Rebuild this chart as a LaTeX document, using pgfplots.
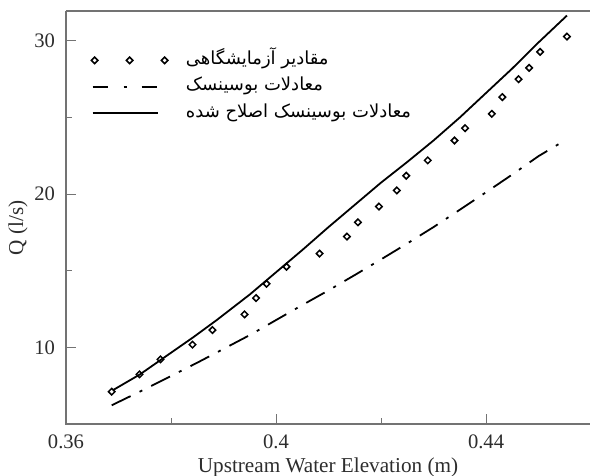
\documentclass[border=0pt]{standalone}
\usepackage{pgfplots}
\pgfplotsset{compat=1.18}
\usepackage{fontspec}
\setmainfont{Liberation Serif}
\newfontfamily\arabicfont[Script=Arabic]{DejaVu Sans}
\TeXXeTstate=1
\definecolor{axgray}{RGB}{115,115,115}
\definecolor{txt}{RGB}{45,45,45}
\begin{document}
\begin{tikzpicture}
\begin{axis}[
  name=ax,
  scale only axis,
  width=262pt, height=206.5pt,
  xmin=0.36, xmax=0.4598, ymin=5, ymax=31.95,
  axis line style={draw=none},
  xtick={0.36,0.4,0.44}, xticklabels={0.36,0.4,0.44},
  minor xtick={0.38,0.42},
  ytick={10,20,30}, yticklabels={10,20,30},
  minor ytick={15,25},
  xtick pos=bottom, ytick pos=left,
  tick align=inside,
  major tick length=5pt, minor tick length=3pt,
  tick style={axgray, line width=0.5pt},
  ticklabel style={font=\fontsize{10.3}{12}\selectfont, text=txt},
  xticklabel style={yshift=-1.7pt},
  yticklabel style={xshift=-2pt},
  every axis x label/.style={at={(rel axis cs:0.5,0)}, anchor=center, yshift=-21.5pt, font=\fontsize{10.6}{12}\selectfont, text=txt},
  every axis y label/.style={at={(rel axis cs:0,0.475)}, rotate=90, anchor=center, yshift=24pt, font=\fontsize{10.6}{12}\selectfont, text=txt},
  xlabel={Upstream Water Elevation (m)},
  ylabel={Q (l/s)},
  legend style={draw=none, fill=none, at={(rel axis cs:0,1)}, anchor=north west,
    xshift=12.5pt, yshift=-18.5pt, inner sep=0pt, row sep=1.25pt, column sep=7pt,
    nodes={inner sep=2pt, text height=6pt, text depth=2pt},
    font=\fontsize{9}{11}\selectfont\arabicfont},
  legend cell align=left,
  clip=false,
]
\draw[axgray, line width=0.6pt] (rel axis cs:0,1) -- (rel axis cs:0,0) -- (rel axis cs:1,0);
\draw[axgray, line width=0.6pt] (rel axis cs:0,1) -- (rel axis cs:1,1);

\addplot[only marks, black, mark=square, mark size=1.15pt,
  mark options={rotate=45, line width=0.75pt, fill=white, draw=black},
  legend image code/.code={\draw[black, line width=0.75pt] plot[only marks, mark=square, mark size=1.15pt, mark options={rotate=45, fill=white}] coordinates {(1pt,0pt) (18.5pt,0pt) (36pt,0pt)};}]
  coordinates {
  (0.3687,7.11) (0.3740,8.24) (0.3780,9.22) (0.3841,10.18) (0.3879,11.13)
  (0.3940,12.15) (0.3962,13.22) (0.3982,14.15) (0.4020,15.26) (0.4083,16.12)
  (0.4135,17.23) (0.4156,18.16) (0.4196,19.19) (0.4230,20.24) (0.4248,21.20)
  (0.4289,22.20) (0.4340,23.50) (0.4360,24.30) (0.4411,25.24) (0.4431,26.33)
  (0.4462,27.50) (0.4482,28.24) (0.4503,29.28) (0.4554,30.28)
  };
\addlegendentry{\beginR مقادیر آزمایشگاهی\endR}

\addplot[black, line width=0.9pt, dash pattern=on 10.5pt off 5pt on 1.5pt off 5pt,
  legend image code/.code={\draw[black, line width=0.9pt, dash pattern=on 7.5pt off 8pt on 1.5pt off 7.5pt] (0pt,0pt) -- (32.5pt,0pt);}]
  coordinates {
  (0.3687,6.22) (0.3750,7.27) (0.3800,8.13) (0.3850,9.00) (0.3900,9.90)
  (0.3950,10.80) (0.4000,11.78) (0.4050,12.76) (0.4100,13.72) (0.4150,14.72)
  (0.4200,15.74) (0.4250,16.78) (0.4300,17.85) (0.4350,18.98) (0.4400,20.12)
  (0.4450,21.28) (0.4500,22.48) (0.4544,23.38)
  };
\addlegendentry{\beginR معادلات بوسینسک\endR}

\addplot[black, line width=0.9pt,
  legend image code/.code={\draw[black, line width=0.9pt] (0pt,0pt) -- (32.5pt,0pt);}]
  coordinates {
  (0.3690,7.22) (0.3741,8.24) (0.3782,9.22) (0.3842,10.65) (0.3887,11.78)
  (0.3950,13.45) (0.4000,14.90) (0.4050,16.35) (0.4100,17.85) (0.4150,19.30)
  (0.4200,20.75) (0.4250,22.10) (0.4300,23.50) (0.4350,25.00) (0.4400,26.60)
  (0.4450,28.20) (0.4500,29.90) (0.4554,31.65)
  };
\addlegendentry{\beginR معادلات بوسینسک اصلاح شده\endR}
\end{axis}
\pgfresetboundingbox
\useasboundingbox ([xshift=-33pt,yshift=-26pt]ax.south west) rectangle ([yshift=5.5pt]ax.north east);
\end{tikzpicture}
\end{document}
